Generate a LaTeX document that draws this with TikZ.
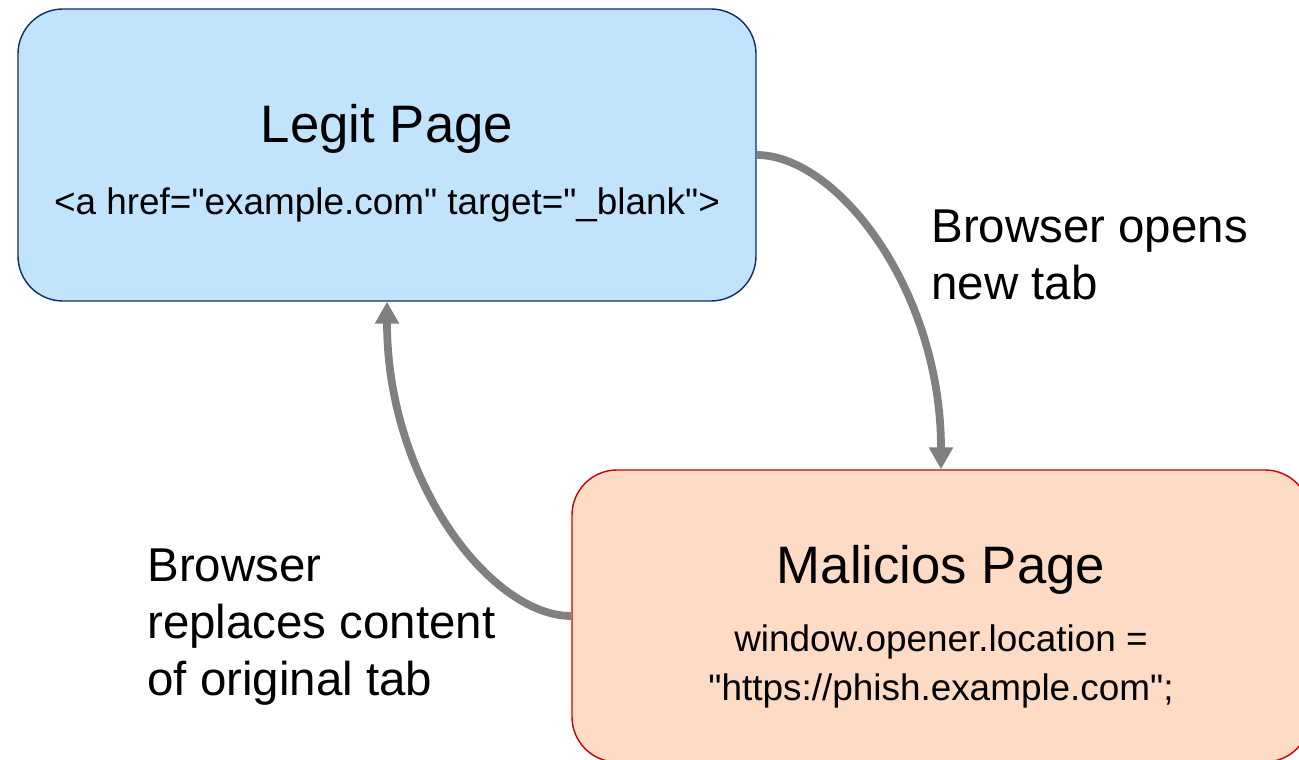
\documentclass[tikz,border=0pt]{standalone}
\usepackage{fontspec}
\setmainfont{Liberation Sans}[Ligatures=TeXOff]
\usetikzlibrary{arrows.meta}
\definecolor{legitfill}{RGB}{193,228,252}
\definecolor{legitline}{RGB}{16,44,110}
\definecolor{malfill}{RGB}{253,219,197}
\definecolor{malline}{RGB}{204,0,0}
\definecolor{flowgray}{RGB}{128,128,128}
\begin{document}
\begin{tikzpicture}[
    line cap=round,line join=round,
    page/.style={rectangle,rounded corners=0.9cm,line width=0.8pt,
        minimum width=14.76cm,minimum height=5.84cm,inner sep=0pt},
    title/.style={inner sep=0pt,anchor=base,font=\fontsize{30}{36}\selectfont},
    code/.style={inner sep=0pt,anchor=base,font=\fontsize{21}{27.8}\selectfont},
    note/.style={inner sep=0pt,anchor=west,align=left,font=\fontsize{27}{32.6}\selectfont},
    flow/.style={draw=flowgray,line width=0.155cm,line cap=butt,
        -{Triangle[length=0.44cm,width=0.46cm]}}
]
    \useasboundingbox (0,0) rectangle (25.98,15.18);
    \node[page,fill=legitfill,draw=legitline] (legit) at (7.74,12.08) {};
    \node[page,fill=malfill,draw=malline] (mal) at (18.82,2.86) {};
    \node[title] (legittitle) at (7.74,12.32) {Legit Page};
    \node[code] (legitcode) at (7.74,10.88) {<a href="example.com" target="\_blank">};
    \node[title] (maltitle) at (18.82,3.50) {Malicios Page};
    \node[code] (malcode) at (18.82,2.16) {window.opener.location =};
    \node[code] (malcode2) at (18.82,1.18) {"https://phish.example.com";};
    \node[note] (opens) at (18.62,10.08) {Browser opens\\new tab};
    \node[note] (replaces) at (2.94,2.64) {Browser\\replaces content\\of original tab};
    \draw[flow] (legit.east) .. controls +(1.6,0) and +(0,3.6) .. (mal.north);
    \draw[flow] (mal.west) .. controls +(-1.6,0) and +(0,-3.6) .. (legit.south);
\end{tikzpicture}
\end{document}
